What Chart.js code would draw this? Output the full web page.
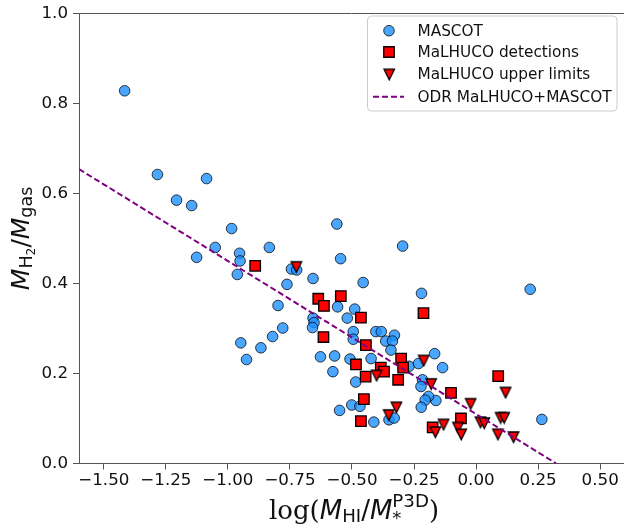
<!DOCTYPE html>
<html>
<head>
<meta charset="utf-8">
<script src="https://cdn.jsdelivr.net/npm/chart.js@4.4.0/dist/chart.umd.min.js"></script>
<style>
  html, body { margin: 0; padding: 0; background: #fff; }
  #wrap { width: 624px; height: 529px; position: relative; }
</style>
</head>
<body>
<div id="wrap"><canvas id="grafico"></canvas></div>
<script>
// MASCOT galaxies
const mascotX = [-1.416, -1.284, -1.086, -1.207, -1.146, -0.985, -1.051, -0.833, -1.126, -0.953,
  -0.951, -0.962, -0.744, -0.723, -0.546, -0.561, -0.657, -0.762, -0.798, -0.558,
  -0.519, -0.489, -0.657, -0.653, -0.659, -0.779, -0.820, -0.948, -0.867, -0.925,
  -0.627, -0.570, -0.495, -0.495, -0.508, -0.423, -0.296, -0.455, -0.220, -0.404,
  -0.382, -0.329, -0.364, -0.337, -0.343, -0.167, -0.270, -0.232, -0.135, -0.577,
  -0.485, -0.216, -0.222, -0.162, -0.192, -0.205, -0.221, -0.550, -0.501, -0.468,
  -0.412, -0.351, -0.330, 0.265, 0.218]
const mascotY = [0.828, 0.642, 0.633, 0.585, 0.573, 0.522, 0.480, 0.480, 0.458, 0.467,
  0.450, 0.420, 0.432, 0.430, 0.455, 0.532, 0.411, 0.398, 0.351, 0.348,
  0.323, 0.343, 0.323, 0.313, 0.302, 0.301, 0.282, 0.268, 0.257, 0.231,
  0.237, 0.239, 0.293, 0.276, 0.232, 0.233, 0.483, 0.402, 0.378, 0.293,
  0.293, 0.285, 0.272, 0.272, 0.252, 0.244, 0.216, 0.222, 0.213, 0.204,
  0.181, 0.186, 0.171, 0.140, 0.149, 0.141, 0.125, 0.118, 0.130, 0.127,
  0.092, 0.097, 0.101, 0.098, 0.387]

// MaLHUCO detections
const detX = [-0.890, -0.636, -0.613, -0.545, -0.464, -0.615, -0.212, -0.444, -0.302, -0.484,
  -0.384, -0.371, -0.294, -0.445, -0.314, -0.452, -0.464, -0.175, -0.101, 0.089, -0.061]
const detY = [0.439, 0.366, 0.350, 0.372, 0.324, 0.281, 0.334, 0.263, 0.233, 0.220,
  0.213, 0.204, 0.213, 0.193, 0.186, 0.143, 0.094, 0.080, 0.157, 0.194, 0.100]

// MaLHUCO upper limits
const limX = [-0.725, -0.212, -0.402, -0.182, -0.322, -0.353, -0.165, 0.118, -0.023, 0.017,
  0.032, 0.098, 0.112, -0.132, -0.074, -0.061, 0.087, 0.150]
const limY = [0.437, 0.229, 0.196, 0.177, 0.125, 0.108, 0.070, 0.158, 0.133, 0.092,
  0.090, 0.102, 0.102, 0.087, 0.080, 0.065, 0.065, 0.059]

// ODR fit, end points
const odrX = [-1.6, 0.323]
const odrY = [0.654, 0.0]

const xTicks = [-1.5, -1.25, -1.0, -0.75, -0.5, -0.25, 0.0, 0.25, 0.5]
const yTicks = [0.0, 0.2, 0.4, 0.6, 0.8, 1.0]

const legendLabels = ['MASCOT', 'MaLHUCO detections', 'MaLHUCO upper limits', 'ODR MaLHUCO+MASCOT']

const pts = (xs, ys) => xs.map((x, i) => ({ x, y: ys[i] }))
const minus = s => s.replace('-', '\u2212')

// triangle pointing down (like matplotlib 'v')
function makeTriangle(size) {
  const c = document.createElement('canvas')
  const pad = 2
  c.width = size + pad * 2
  c.height = size + pad * 2
  const g = c.getContext('2d')
  g.beginPath()
  g.moveTo(pad, pad)
  g.lineTo(pad + size, pad)
  g.lineTo(pad + size / 2, pad + size)
  g.closePath()
  g.fillStyle = '#ff0000'
  g.fill()
  g.lineWidth = 1.3
  g.lineJoin = 'miter'
  g.strokeStyle = '#000'
  g.stroke()
  return c
}
const triImg = makeTriangle(10.5)

const blueFill = 'rgba(30,144,255,0.8)'
const blueEdge = 'rgba(0,0,0,0.75)'

// text pieces [text, font, dy]; {stack: [...]} puts super/subscript on one spot
function runWidth(ctx, runs) {
  let w = 0
  for (const r of runs) {
    if (r.stack) {
      let m = 0
      for (const s of r.stack) { ctx.font = s[1]; m = Math.max(m, ctx.measureText(s[0]).width) }
      w += m
    } else {
      ctx.font = r[1]
      w += ctx.measureText(r[0]).width
    }
  }
  return w
}
function drawRuns(ctx, runs, x, y) {
  let cx = x
  for (const r of runs) {
    if (r.stack) {
      let m = 0
      for (const s of r.stack) {
        ctx.font = s[1]
        ctx.fillText(s[0], cx, y + s[2])
        m = Math.max(m, ctx.measureText(s[0]).width)
      }
      cx += m
    } else {
      ctx.font = r[1]
      ctx.fillText(r[0], cx, y + r[2])
      cx += ctx.measureText(r[0]).width
    }
  }
}

const xTitle = [
  ['log(', '26px "DejaVu Serif"', 0],
  ['M', 'italic 26px "DejaVu Sans"', 0],
  ['HI', '18.2px "DejaVu Sans"', 3],
  ['/', '26px "DejaVu Sans"', 0],
  ['M', 'italic 26px "DejaVu Sans"', 0],
  { stack: [['P3D', '18.2px "DejaVu Sans"', -12], ['*', '18.2px "DejaVu Sans"', 5]] },
  [')', '26px "DejaVu Serif"', 0]
]
const yTitle = [
  ['M', 'italic 25px "DejaVu Sans"', 0],
  ['H', '17.5px "DejaVu Sans"', 3],
  ['2', '12.3px "DejaVu Sans"', 6],
  ['/', '25px "DejaVu Sans"', 0],
  ['M', 'italic 25px "DejaVu Sans"', 0],
  ['gas', '17.5px "DejaVu Sans"', 3]
]

const extras = {
  id: 'extras',
  afterDraw(chart) {
    const ctx = chart.ctx
    const a = chart.chartArea
    ctx.save()
    // top spine
    ctx.strokeStyle = '#555'
    ctx.lineWidth = 1
    ctx.beginPath()
    ctx.moveTo(a.left, Math.round(a.top) + 0.5)
    ctx.lineTo(a.right, Math.round(a.top) + 0.5)
    ctx.stroke()

    ctx.fillStyle = '#111'
    ctx.textBaseline = 'alphabetic'
    ctx.textAlign = 'left'
    // x title
    const wx = runWidth(ctx, xTitle)
    drawRuns(ctx, xTitle, 354 - wx / 2, 519)
    // y title
    const wy = runWidth(ctx, yTitle)
    ctx.save()
    ctx.translate(28.5, (a.top + a.bottom) / 2)
    ctx.rotate(-Math.PI / 2)
    drawRuns(ctx, yTitle, -wy / 2, 0)
    ctx.restore()

    // legend
    const bx = 367.5, by = 16, bw = 249.5, bh = 95
    ctx.beginPath()
    ctx.roundRect(bx, by, bw, bh, 4)
    ctx.fillStyle = 'rgba(255,255,255,0.8)'
    ctx.fill()
    ctx.strokeStyle = '#cccccc'
    ctx.lineWidth = 1
    ctx.stroke()

    const rows = [30.7, 52, 74.3, 96.7]
    const mx = 389
    ctx.fillStyle = blueFill
    ctx.strokeStyle = blueEdge
    ctx.lineWidth = 1
    Chart.helpers.drawPoint(ctx, { pointStyle: 'circle', radius: 5.3, rotation: 0, borderWidth: 1 }, mx, rows[0])
    ctx.fillStyle = '#ff0000'
    ctx.strokeStyle = '#000'
    ctx.lineWidth = 1.3
    Chart.helpers.drawPoint(ctx, { pointStyle: 'rect', radius: 7.4, rotation: 0, borderWidth: 1.3 }, mx, rows[1])
    ctx.drawImage(triImg, mx - triImg.width / 2, rows[2] - triImg.height / 2)
    ctx.strokeStyle = '#800080'
    ctx.lineWidth = 2
    ctx.setLineDash([6, 3])
    ctx.beginPath()
    ctx.moveTo(373, rows[3])
    ctx.lineTo(404, rows[3])
    ctx.stroke()
    ctx.setLineDash([])

    ctx.fillStyle = '#111'
    ctx.font = '15.3px "DejaVu Sans"'
    ctx.textBaseline = 'middle'
    legendLabels.forEach((t, i) => ctx.fillText(t, 417.5, rows[i] + 1))
    ctx.restore()
  }
}

const tickFont = { family: 'DejaVu Sans', size: 16.7, lineHeight: 1 }

const config = {
  type: 'scatter',
  data: {
    datasets: [
      {
        label: legendLabels[3],
        data: pts(odrX, odrY),
        showLine: true,
        borderColor: '#800080',
        borderWidth: 2,
        borderDash: [6, 3],
        pointRadius: 0,
        fill: false
      },
      {
        label: legendLabels[2],
        data: pts(limX, limY),
        pointStyle: triImg
      },
      {
        label: legendLabels[1],
        data: pts(detX, detY),
        pointStyle: 'rect',
        pointRadius: 7.4,
        backgroundColor: '#ff0000',
        borderColor: '#000',
        borderWidth: 1.3
      },
      {
        label: legendLabels[0],
        data: pts(mascotX, mascotY),
        pointStyle: 'circle',
        pointRadius: 5.3,
        backgroundColor: blueFill,
        borderColor: blueEdge,
        borderWidth: 1
      }
    ]
  },
  options: {
    responsive: true,
    maintainAspectRatio: false,
    animation: false,
    events: [],
    layout: { autoPadding: false, padding: { top: 8.5, left: 0, right: 0, bottom: 0 } },
    plugins: {
      legend: { display: false },
      tooltip: { enabled: false }
    },
    scales: {
      x: {
        type: 'linear',
        min: -1.6,
        max: 0.596,
        afterBuildTicks: s => { s.ticks = xTicks.map(v => ({ value: v })) },
        afterFit: s => { s.height = 65.5; s.paddingLeft = 0; s.paddingRight = 0 },
        ticks: {
          font: tickFont,
          color: '#111',
          padding: 3,
          maxRotation: 0,
          callback: v => minus(v.toFixed(2))
        },
        grid: { drawOnChartArea: false, drawTicks: true, tickLength: 6, tickColor: '#555' },
        border: { color: '#555', width: 1 }
      },
      y: {
        min: 0,
        max: 1,
        afterBuildTicks: s => { s.ticks = yTicks.map(v => ({ value: v })) },
        afterFit: s => { s.width = 79 },
        ticks: {
          font: tickFont,
          color: '#111',
          padding: 5,
          callback: v => v.toFixed(1)
        },
        grid: { drawOnChartArea: false, drawTicks: true, tickLength: 6, tickColor: '#555' },
        border: { color: '#555', width: 1 }
      }
    }
  },
  plugins: [extras]
}

const graph = new Chart(document.getElementById('grafico'), config)
</script>
</body>
</html>
